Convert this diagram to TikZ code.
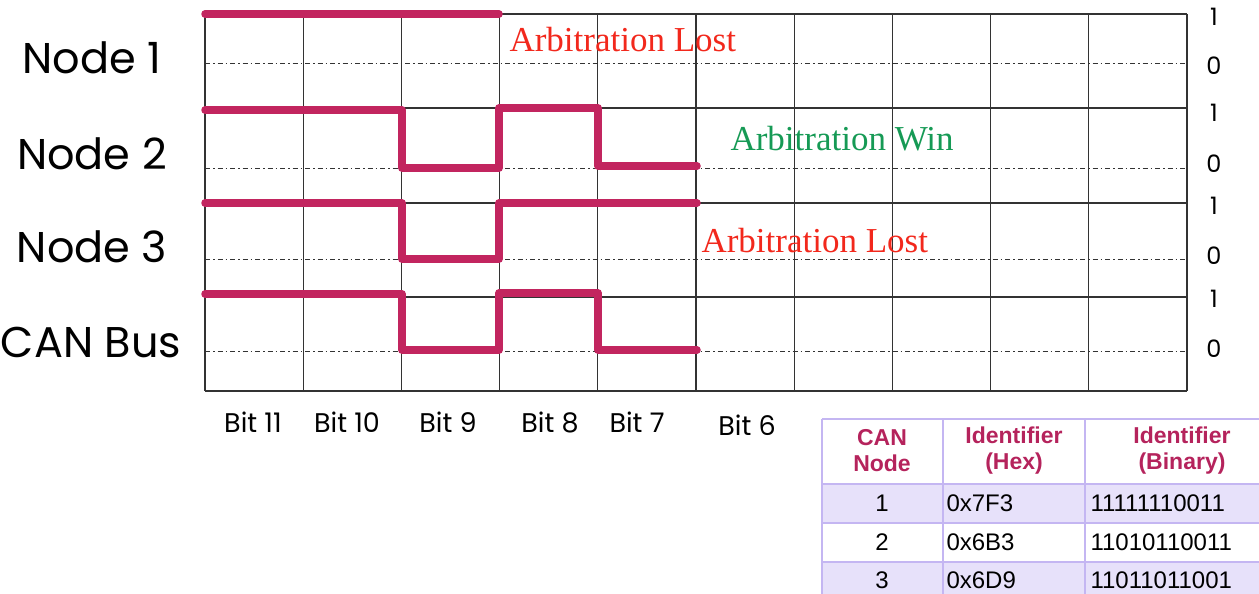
\documentclass[tikz,border=0pt]{standalone}
\usepackage{fontspec}
\usepackage{tikz}
\usetikzlibrary{calc}

\newfontfamily\gothicfont{Poppins}
\newfontfamily\arialfont{Liberation Sans}
\newfontfamily\bookfont{Liberation Serif}

\definecolor{sigcol}{HTML}{C2255F}
\definecolor{lostcol}{HTML}{F2281C}
\definecolor{wincol}{HTML}{169A55}
\definecolor{tabfill}{HTML}{E7E1FA}
\definecolor{tabline}{HTML}{C4B6F2}
\definecolor{headcol}{HTML}{B5235C}

\tikzset{
  gridline/.style={draw=black!80, line width=1.3pt},
  levelline/.style={draw=black!80, line width=1pt, dash pattern=on 5pt off 3pt on 1.5pt off 3pt},
  signal/.style={draw=sigcol, line width=7.5pt, line cap=round, line join=round},
  rowlabel/.style={font=\gothicfont\fontsize{43}{43}\selectfont, anchor=center},
  bitlabel/.style={font=\gothicfont\fontsize{27}{27}\selectfont, anchor=center},
  levellabel/.style={font=\gothicfont\fontsize{24}{24}\selectfont, anchor=center},
  arbtext/.style={font=\bookfont\fontsize{35}{35}\selectfont, anchor=west},
  headtext/.style={font=\arialfont\bfseries\fontsize{23}{26}\selectfont, text=headcol, align=center},
  celltext/.style={font=\arialfont\fontsize{24}{24}\selectfont}
}

\begin{document}
\begin{tikzpicture}[x=1pt, y=-1pt]
    \clip (0,0) rectangle (1259,594);
    \coordinate (o) at (205,14);

    % timing grid
    \foreach \i in {0,...,10}
        \draw[gridline] ($(o) + (98.2*\i,0)$) -- ($(o) + (98.2*\i,377)$);
    \foreach \y in {0,94,189,283,377}
        \draw[gridline] ($(o) + (0,\y)$) -- ($(o) + (982,\y)$);
    \foreach \y in {50,154,245,337}
        \draw[levelline] ($(o) + (0,\y)$) -- ($(o) + (982,\y)$);

    % node 1
    \draw[signal] (205,14) -- (499,14);
    % node 2
    \draw[signal] (205,110) -- (402,110) -- (402,168) -- (499,168)
        -- (499,108) -- (598,108) -- (598,166) -- (697,166);
    % node 3
    \draw[signal] (205,203) -- (402,203) -- (402,259) -- (499,259)
        -- (499,203) -- (697,203);
    % can bus
    \draw[signal] (205,294) -- (402,294) -- (402,350) -- (499,350)
        -- (499,293) -- (598,293) -- (598,350) -- (697,350);

    \node[rowlabel] (n1) at (92,58) {Node 1};
    \node[rowlabel] (n2) at (92,154) {Node 2};
    \node[rowlabel] (n3) at (92,247) {Node 3};
    \node[rowlabel] (bus) at (91,343) {CAN Bus};

    \node[bitlabel] (b11) at (253,422) {Bit 11};
    \node[bitlabel] (b10) at (347,422) {Bit 10};
    \node[bitlabel] (b9) at (448,422) {Bit 9};
    \node[bitlabel] (b8) at (550,422) {Bit 8};
    \node[bitlabel] (b7) at (637,422) {Bit 7};
    \node[bitlabel] (b6) at (747,425) {Bit 6};

    \node[levellabel] (h1) at (1214,17) {1};
    \node[levellabel] (l1) at (1214,66) {0};
    \node[levellabel] (h2) at (1214,113) {1};
    \node[levellabel] (l2) at (1214,164) {0};
    \node[levellabel] (h3) at (1214,206) {1};
    \node[levellabel] (l3) at (1214,256) {0};
    \node[levellabel] (h4) at (1214,299) {1};
    \node[levellabel] (l4) at (1214,349) {0};

    \node[arbtext, text=lostcol] (lost1) at (506,40) {Arbitration Lost};
    \node[arbtext, text=wincol] (win2) at (727,139) {Arbitration Win};
    \node[arbtext, text=lostcol] (lost3) at (698,241) {Arbitration Lost};

    % identifier table
    \fill[tabfill] (822,484) rectangle (1262,523);
    \fill[tabfill] (822,562) rectangle (1262,600);
    \foreach \y in {419,484,523,562}
        \draw[tabline, line width=1.2pt] (822,\y) -- (1262,\y);
    \foreach \x in {822,943,1085}
        \draw[tabline, line width=1.2pt] (\x,419) -- (\x,600);

    \node[headtext] (t11) at (882,451) {CAN\\Node};
    \node[headtext] (t12) at (1014,451) {Identifier\\(Hex)};
    \node[headtext] (t13) at (1182,451) {Identifier\\(Binary)};

    \node[celltext] (t21) at (882,503) {1};
    \node[celltext, anchor=west] (t22) at (943,503) {0x7F3};
    \node[celltext, anchor=west] (t23) at (1087,503) {11111110011};
    \node[celltext] (t31) at (882,542) {2};
    \node[celltext, anchor=west] (t32) at (943,542) {0x6B3};
    \node[celltext, anchor=west] (t33) at (1087,542) {11010110011};
    \node[celltext] (t41) at (882,580) {3};
    \node[celltext, anchor=west] (t42) at (943,580) {0x6D9};
    \node[celltext, anchor=west] (t43) at (1087,580) {11011011001};
\end{tikzpicture}
\end{document}
